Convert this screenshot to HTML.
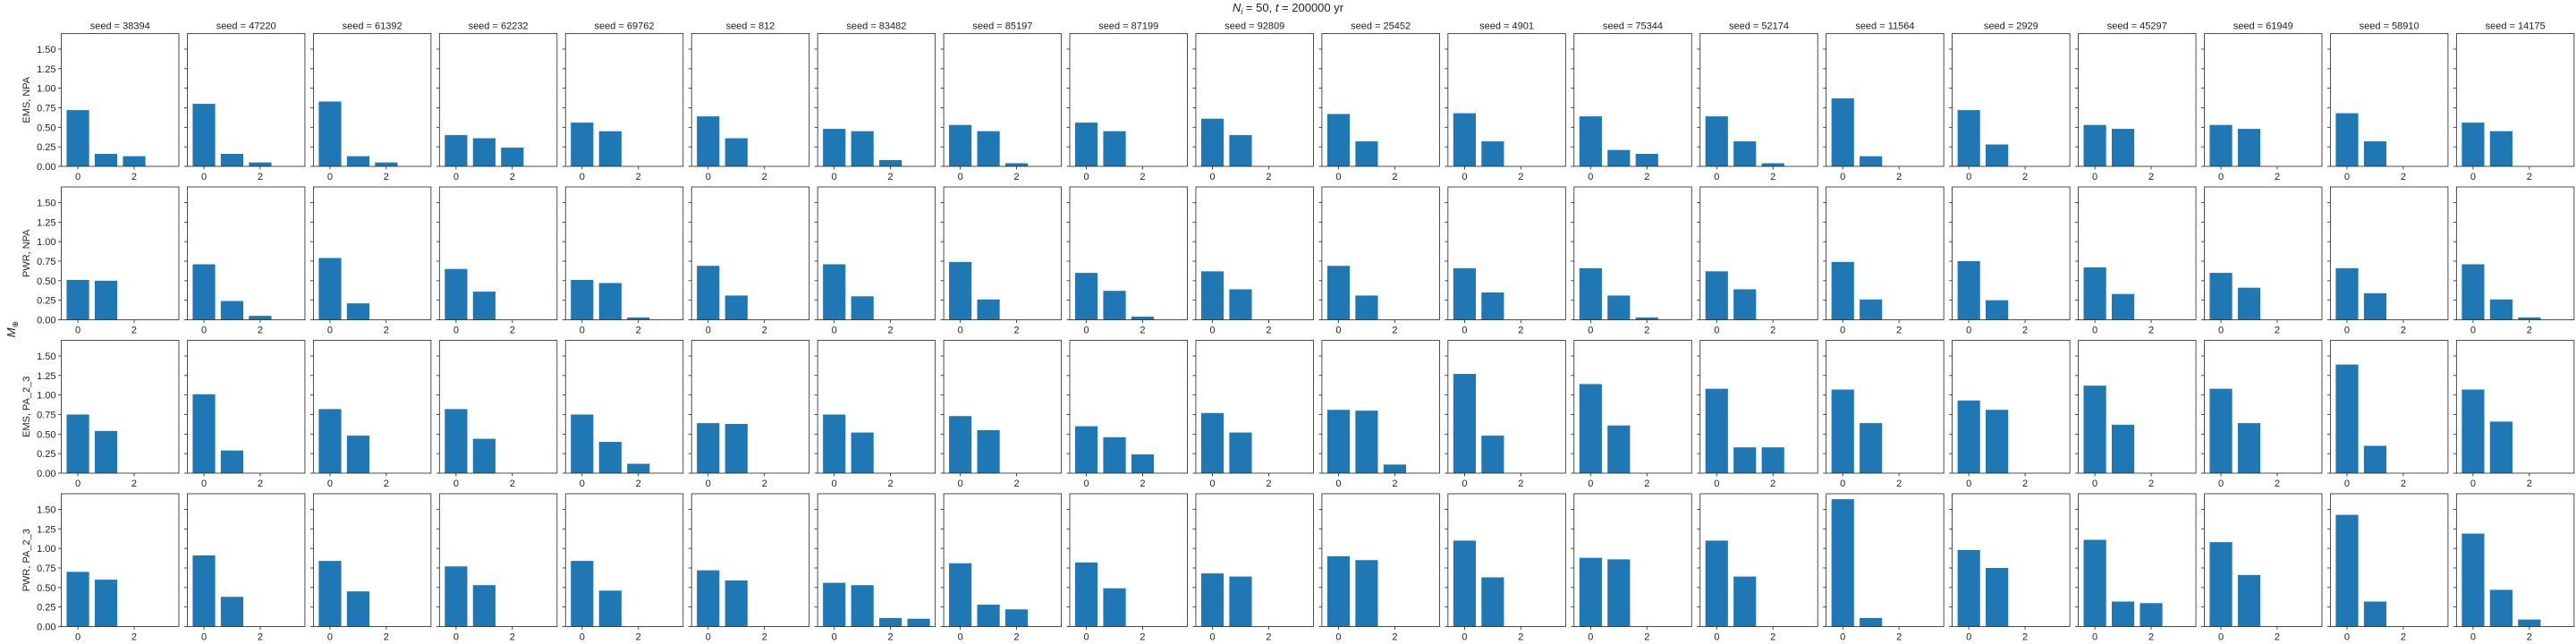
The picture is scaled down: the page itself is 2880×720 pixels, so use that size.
<!DOCTYPE html>
<html><head><meta charset="utf-8"><style>
html,body{margin:0;padding:0;background:#fff;}
svg{display:block;font-family:"Liberation Sans","DejaVu Sans",sans-serif;}
</style></head><body>
<svg id="chart" width="2880" height="720" viewBox="0 0 2880 720" xmlns="http://www.w3.org/2000/svg">
<text x="1440" y="13" text-anchor="middle" font-size="13" fill="#222"><tspan font-style="italic">N</tspan><tspan font-size="9" dy="3" font-style="italic">i</tspan><tspan dy="-3"> = 50, </tspan><tspan font-style="italic">t</tspan><tspan> = 200000 yr</tspan></text>
<text transform="translate(17,368) rotate(-90)" text-anchor="middle" font-size="13" fill="#222"><tspan font-style="italic">M</tspan><tspan font-size="9" dy="3">⊕</tspan></text>
</svg>
<script>
const seeds=[38394,47220,61392,62232,69762,812,83482,85197,87199,92809,25452,4901,75344,52174,11564,2929,45297,61949,58910,14175];
const rowLabels=["EMS, NPA","PWR, NPA","EMS, PA_2_3","PWR, PA_2_3"];
const yTicks=[0,0.25,0.5,0.75,1.0,1.25,1.5];
const yTickLabels=["0.00","0.25","0.50","0.75","1.00","1.25","1.50"];
const xTicks=[0,2];
const row1=[[0.72,0.16,0.13],[0.80,0.16,0.05],[0.83,0.13,0.05],[0.40,0.36,0.24],[0.56,0.45],[0.64,0.36],[0.48,0.45,0.08],[0.53,0.45,0.04],[0.56,0.45],[0.61,0.40],[0.67,0.32],[0.68,0.32],[0.64,0.21,0.16],[0.64,0.32,0.04],[0.87,0.13],[0.72,0.28],[0.53,0.48],[0.53,0.48],[0.68,0.32],[0.56,0.45]];
const row2=[[0.51,0.50],[0.71,0.24,0.05],[0.79,0.21],[0.65,0.36],[0.51,0.47,0.03],[0.69,0.31],[0.71,0.30],[0.74,0.26],[0.60,0.37,0.04],[0.62,0.39],[0.69,0.31],[0.66,0.35],[0.66,0.31,0.03],[0.62,0.39],[0.74,0.26],[0.75,0.25],[0.67,0.33],[0.60,0.41],[0.66,0.34],[0.71,0.26,0.03]];
const row3=[[0.75,0.54],[1.01,0.29],[0.82,0.48],[0.82,0.44],[0.75,0.40,0.12],[0.64,0.63],[0.75,0.52],[0.73,0.55],[0.60,0.46,0.24],[0.77,0.52],[0.81,0.80,0.11],[1.27,0.48],[1.14,0.61],[1.08,0.33,0.33],[1.07,0.64],[0.93,0.81],[1.12,0.62],[1.08,0.64],[1.39,0.35],[1.07,0.66]];
const row4=[[0.70,0.60],[0.91,0.38],[0.84,0.45],[0.77,0.53],[0.84,0.46],[0.72,0.59],[0.56,0.53,0.11,0.10],[0.81,0.28,0.22],[0.82,0.49],[0.68,0.64],[0.90,0.85],[1.10,0.63],[0.88,0.86],[1.10,0.64],[1.63,0.11],[0.98,0.75],[1.11,0.32,0.30],[1.08,0.66],[1.43,0.32],[1.19,0.47,0.09]];
const rows=[row1,row2,row3,row4];

const NS="http://www.w3.org/2000/svg";
const svg=document.getElementById('chart');
const X0=68.5,PITCH=140.94,W=131.5,H=148.5;
const rowTops=[37.5,209,380.5,552];
const XMIN=-0.59,XMAX=3.59,YMAX=1.70;
function mk(tag,attrs,parent){const e=document.createElementNS(NS,tag);for(const k in attrs)e.setAttribute(k,attrs[k]);(parent||svg).appendChild(e);return e;}
rows.forEach((row,r)=>{
  const top=rowTops[r];
  const rl=mk('text',{x:0,y:0,'font-size':11,fill:'#222','text-anchor':'middle',transform:`translate(33,${top+H/2}) rotate(-90)`});
  
  
  rl.textContent=rowLabels[r];
  row.forEach((vals,c)=>{
    const left=X0+c*PITCH;
    const xs=v=>left+(v-XMIN)/(XMAX-XMIN)*W;
    const ys=v=>top+H-v/YMAX*H;
    const g=mk('g',{});
    
    
    vals.forEach((v,i)=>{
      const b=mk('rect',{x:xs(i-0.4),y:ys(v),width:xs(i+0.4)-xs(i-0.4),height:ys(0)-ys(v),fill:'#1f77b4'},g);
      
      
    });
    yTicks.forEach((t,i)=>{
      mk('line',{x1:left-3.5,x2:left,y1:ys(t),y2:ys(t),stroke:'#222','stroke-width':0.8},g);
      if(c===0){
        const tl=mk('text',{x:left-6,y:ys(t)+4,'font-size':11,fill:'#222','text-anchor':'end'},g);
        
        
        tl.textContent=yTickLabels[i];
      }
    });
    xTicks.forEach(t=>{
      mk('line',{x1:xs(t),x2:xs(t),y1:top+H,y2:top+H+3.5,stroke:'#222','stroke-width':0.8},g);
      const tl=mk('text',{x:xs(t),y:top+H+15,'font-size':11,fill:'#222','text-anchor':'middle'},g);
      
      
      tl.textContent=String(t);
    });
    mk('rect',{x:left,y:top,width:W,height:H,fill:'none',stroke:'#222','stroke-width':0.8},g);
    if(r===0){
      const st=mk('text',{x:left+W/2,y:top-5,'font-size':11,fill:'#222','text-anchor':'middle'},g);
      
      
      st.textContent='seed = '+seeds[c];
    }
  });
});
</script>
</body></html>
